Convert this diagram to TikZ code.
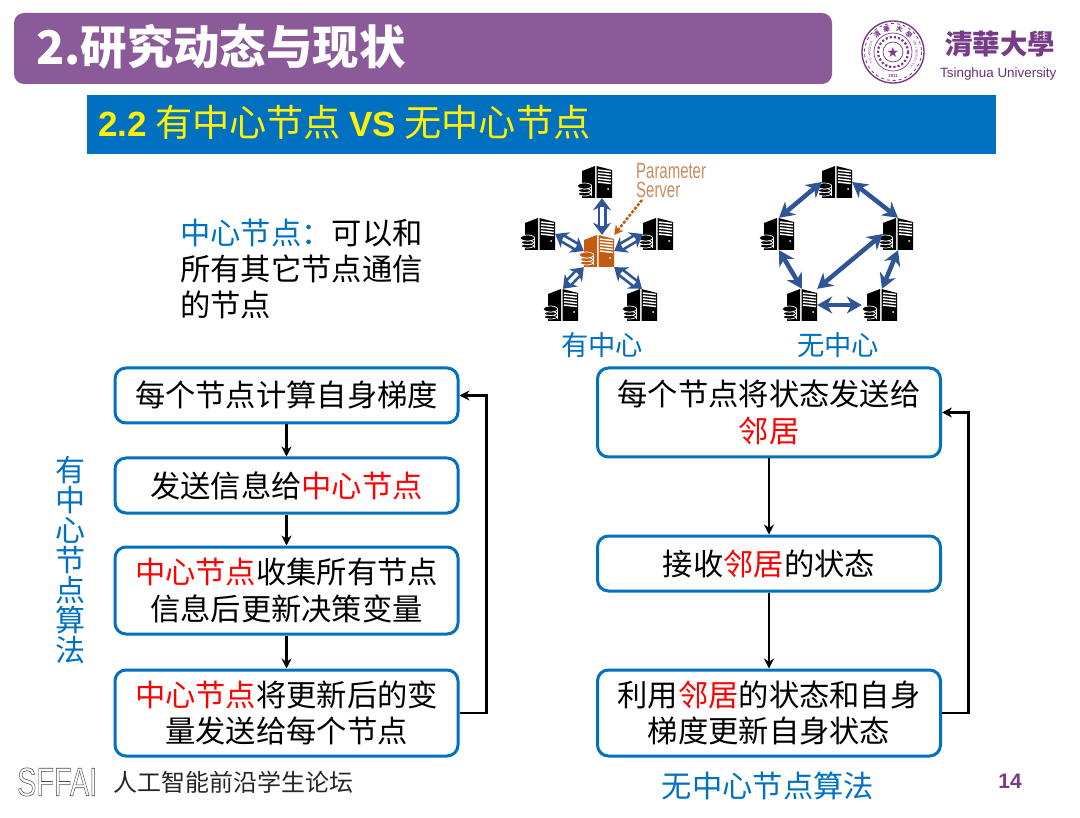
\documentclass[tikz,border=0pt]{standalone}
\usepackage{fontspec}
\setmainfont{Noto Sans CJK SC}
\newfontfamily\cjktc{Noto Sans CJK TC}
\newfontfamily\latin{Liberation Sans}
\usetikzlibrary{arrows.meta,calc}
\definecolor{barpurple}{RGB}{139,90,152}
\definecolor{barblue}{RGB}{0,112,192}
\definecolor{netblue}{RGB}{47,85,151}
\definecolor{hubred}{RGB}{197,90,17}
\definecolor{pslabel}{RGB}{200,140,95}
\definecolor{sealpurple}{RGB}{118,60,135}
\newcommand{\fsz}[2][1.2]{\fontsize{#2}{#1\dimexpr #2pt\relax}\selectfont}
\tikzset{
  stepbox/.style={draw=barblue, line width=3pt, rounded corners=11pt, fill=white,
    minimum width=343pt, align=center, inner sep=0pt, font=\fsz{30.3}},
  flow/.style={black, line width=2.2pt, -{Stealth[length=10pt,width=10pt]}},
  srvbox/.style={minimum width=30pt, minimum height=32pt, inner sep=0pt},
  netarrow/.style={netblue, line width=4.5pt, {Stealth[length=15pt,width=17pt]}-{Stealth[length=15pt,width=17pt]}},
  hubarrow/.style={netblue, line width=9pt, {Stealth[length=12pt,width=18pt]}-{Stealth[length=12pt,width=18pt]}},
  hubslit/.style={white, line width=3.6pt, shorten <=9pt, shorten >=9pt},
  bluelabel/.style={text=barblue, inner sep=0pt},
  sealtext/.style={text=sealpurple, inner sep=0pt},
  pics/server/.style={code={
    \fill[#1] (-15,-11) -- (-2,-16) -- (-2,16) -- (-15,16) -- cycle;
    \fill[#1] (-0.5,-16) -- (15,-12) -- (15,16) -- (-0.5,16) -- cycle;
    \foreach \r in {-12,-9,-6,-3,0}{
      \draw[white, line width=1.5pt] (1,\r) -- (14,\r+1.5);
    }
    \fill[white] (11,7) circle (1);
    \foreach \r in {11,7.5,4}{
      \fill[#1, draw=white, line width=0.7pt] (-19.5,\r) -- (-19.5,\r+2) arc (180:360:7 and 3) -- (-5.5,\r) arc (0:180:7 and 3);
    }
    \fill[#1, draw=white, line width=0.7pt] (-12.5,4) ellipse (7 and 3);
  }}
}
\begin{document}
\begin{tikzpicture}[x=1pt, y=-1pt]
  \useasboundingbox (0,0) rectangle (1080,818);
  \fill[white] (0,0) rectangle (1080,818);
  % Kopfzeile
  \fill[barpurple, rounded corners=10pt] (14,13) rectangle (832,84);
  \node[anchor=west, text=white, inner sep=0pt, font=\fsz{46.4}\bfseries] (titleText) at (36,47) {2.研究动态与现状};
  \fill[barblue] (87,95) rectangle (996,154);
  \node[anchor=west, text=yellow, inner sep=0pt, font=\fsz{37.2}] (subText) at (98,122)
    {{\latin\bfseries\fsz{35}2.2} 有中心节点 {\latin\bfseries\fsz{35}VS} 无中心节点};
  % Logo
  \draw[sealpurple, line width=1.4pt] (893,52) circle (31);
  \draw[sealpurple, line width=0.8pt, dashed] (893,52) circle (28.5);
  \draw[sealpurple, line width=0.7pt] (893,52) circle (19);
  \draw[sealpurple, line width=2.2pt, dotted] (893,52) circle (15);
  \draw[sealpurple, line width=0.7pt] (893,52) circle (10);
  \node[sealtext, font=\fsz{14}] (sealStar) at (893,52) {\fontspec{DejaVu Sans}★};
  \foreach \ang/\chr in {132/清,106/華,74/大,48/學}{
    \node[sealtext, font=\fsz{6.5}\bfseries, rotate=\ang-90] at ($(893,52)+(-\ang:23.7)$) {\chr};
  }
  \foreach \chr [count=\i] in {T,S,I,N,G,H,U,A}{
    \node[sealtext, font=\fsz{3.6}\latin, rotate=122+7*\i] at ($(893,52)+({-(212-7*\i)}:23.7)$) {\chr};
  }
  \foreach \chr [count=\i] in {U,N,I,V,E,R,S,I,T,Y}{
    \node[sealtext, font=\fsz{3.6}\latin, rotate=-58-7*\i] at ($(893,52)+({-(32-7*\i)}:23.7)$) {\chr};
  }
  \node[sealtext, font=\fsz{4.4}\latin\bfseries] (sealYear) at (893,76) {1911};
  \node[anchor=west, text=sealpurple, inner sep=0pt, font=\fsz{27.5}\cjktc\bfseries] (logoName) at (945,44) {清華大學};
  \node[anchor=west, text=sealpurple!85!black, inner sep=0pt, font=\fsz{13.4}\latin] (logoUni) at (940,74) {Tsinghua University};
  % Erklaerung
  \node[anchor=west, inner sep=0pt, align=left, font=\fsz{30.3}] (defText) at (180,269)
    {\textcolor{barblue}{中心节点：}可以和\\所有其它节点通信\\的节点};
  % Server mit Zentrum
  \foreach \nm/\xx/\yy in {pTop/597/182, pLft/540/234, pRgt/658/234, pBl/563/305, pBr/642/305}{
    \node[srvbox] (\nm) at (\xx,\yy) {};
    \pic at (\nm) {server=black};
  }
  \node[srvbox] (pCtr) at (599,251) {};
  \pic at (pCtr) {server=hubred};
  \foreach \a/\b in {pLft.east/pCtr.west, pRgt.west/pCtr.east, pBl.north/pCtr.south west, pBr.north/pCtr.south east}{
    \draw[hubarrow] (\a) -- (\b);
    \draw[hubslit] (\a) -- (\b);
  }
  \draw[hubarrow] ([xshift=5pt]pTop.south) -- ([xshift=3pt]pCtr.north);
  \draw[hubslit] ([xshift=5pt]pTop.south) -- ([xshift=3pt]pCtr.north);
  \node[anchor=north west, text=pslabel, inner sep=0pt, align=left, font={\fsz[0.86]{22}}] (psText) at (636,163)
    {\scalebox{.68}[1]{\latin Parameter}\\\scalebox{.68}[1]{\latin Server}};
  \coordinate (psFrom) at (642,200);
  \draw[hubred, line width=2.5pt, dash pattern=on 3pt off 1.5pt, -{Stealth[length=9pt,width=10pt]}] (psFrom) -- (pCtr.north east);
  \node[bluelabel, font=\fsz{27.3}] (lblA) at (602,345) {有中心};
  % Server ohne Zentrum
  \foreach \nm/\xx/\yy in {qTop/837/182, qLft/779/234, qRgt/898/234, qBl/802/305, qBr/882/305}{
    \node[srvbox] (\nm) at (\xx,\yy) {};
    \pic at (\nm) {server=black};
  }
  \draw[netarrow] (qLft.north) -- (qTop.west);
  \draw[netarrow] (qTop.east) -- (qRgt.north);
  \draw[netarrow] (qLft.south) -- (qBl.north);
  \draw[netarrow] (qRgt.south) -- (qBr.north);
  \draw[netarrow] (qBl.north east) -- (qRgt.west);
  \draw[netarrow, shorten >=5pt] (qBl.east) -- (qBr.west);
  \node[bluelabel, font=\fsz{27.3}] (lblB) at (838,345) {无中心};
  % Ablauf links
  \node[stepbox, minimum height=55pt] (lOne) at (286.5,395.5) {每个节点计算自身梯度};
  \node[stepbox, minimum height=55pt] (lTwo) at (286.5,485.5) {发送信息给\textcolor{red}{中心节点}};
  \node[stepbox, minimum height=87pt] (lThree) at (286.5,590.5) {\textcolor{red}{中心节点}收集所有节点\\信息后更新决策变量};
  \node[stepbox, minimum height=86pt] (lFour) at (286.5,713) {\textcolor{red}{中心节点}将更新后的变\\量发送给每个节点};
  \draw[flow] (lOne) -- (lTwo);
  \draw[flow] (lTwo) -- (lThree);
  \draw[flow] (lThree) -- (lFour);
  \draw[flow] (lFour.east) -- ++(27,0) |- (lOne.east);
  \node[bluelabel, align=center, font={\fsz[1]{30}}] (lblLeft) at (70,560) {有\\中\\心\\节\\点\\算\\法};
  % Ablauf rechts
  \node[stepbox, minimum height=89pt] (rOne) at (769,412.5) {每个节点将状态发送给\\\textcolor{red}{邻居}};
  \node[stepbox, minimum height=55pt] (rTwo) at (769,563.5) {接收\textcolor{red}{邻居}的状态};
  \node[stepbox, minimum height=86pt] (rThree) at (769,713) {利用\textcolor{red}{邻居}的状态和自身\\梯度更新自身状态};
  \draw[flow] (rOne) -- (rTwo);
  \draw[flow] (rTwo) -- (rThree);
  \draw[flow] (rThree.east) -- ++(26.5,0) |- (rOne.east);
  \node[bluelabel, font=\fsz{30.3}] (lblRight) at (768,786) {无中心节点算法};
  % Fusszeile
  \node[anchor=west, text=black!70, inner sep=0pt, font=\fsz{40}\latin] (sffaiText) at (17,782)
    {\scalebox{.72}[1]{\special{pdf:code 1 Tr 0.6 w}SFFAI}};
  \node[anchor=west, text=black!85, inner sep=0pt, font=\fsz{24}] (forumText) at (113,782) {人工智能前沿学生论坛};
  \node[text=sealpurple, inner sep=0pt, font=\fsz{21}\latin\bfseries] (pageNum) at (1010,781) {14};
\end{tikzpicture}
\end{document}
